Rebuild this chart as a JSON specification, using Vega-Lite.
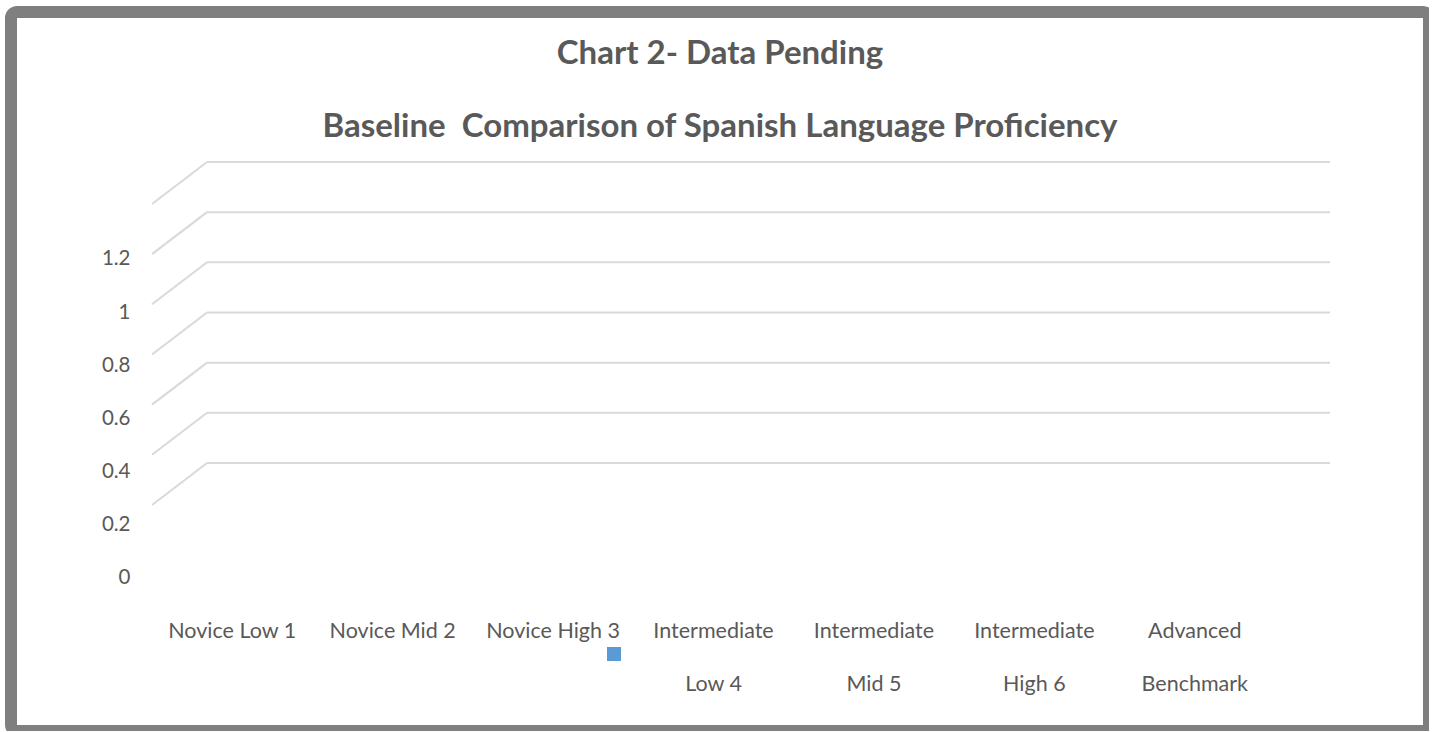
{
  "$schema": "https://vega.github.io/schema/vega-lite/v6.json",
  "width": 1418,
  "height": 719,
  "autosize": {"type": "none"},
  "padding": {"left": 11, "top": 12, "right": 0, "bottom": 0},
  "background": "white",
  "config": {
    "view": {"stroke": "#7F7F7F", "strokeWidth": 12, "cornerRadius": 6, "fill": "white"},
    "font": "Lato"
  },
  "title": {
    "text": ["Chart 2- Data Pending", "Baseline \u00a0Comparison of Spanish Language Proficiency"],
    "anchor": "middle",
    "frame": "group",
    "font": "Lato",
    "fontSize": 33,
    "fontWeight": "bold",
    "color": "#595959",
    "lineHeight": 73,
    "offset": -132
  },
  "datasets": {
    "levels": [
      {"level": "Novice Low 1", "series": " ", "score": null},
      {"level": "Novice Mid 2", "series": " ", "score": null},
      {"level": "Novice High 3", "series": " ", "score": null},
      {"level": "Intermediate Low 4", "series": " ", "score": null},
      {"level": "Intermediate Mid 5", "series": " ", "score": null},
      {"level": "Intermediate High 6", "series": " ", "score": null},
      {"level": "Advanced Benchmark", "series": " ", "score": null}
    ],
    "grid": [
      {"tick": 0}, {"tick": 0.2}, {"tick": 0.4}, {"tick": 0.6}, {"tick": 0.8}, {"tick": 1.0}, {"tick": 1.2}
    ]
  },
  "layer": [
    {
      "data": {"name": "grid"},
      "mark": {"type": "rule", "color": "#D9D9D9", "strokeWidth": 2},
      "encoding": {
        "x": {"datum": 0.343, "type": "quantitative", "scale": {"domain": [-0.879, 7.96], "nice": false, "zero": false}, "axis": null},
        "x2": {"datum": 7.343},
        "y": {"field": "tick", "type": "quantitative", "scale": {"domain": [-1.0686, 1.798], "nice": false, "zero": false}, "axis": null}
      }
    },
    {
      "data": {"name": "grid"},
      "mark": {"type": "rule", "color": "#D9D9D9", "strokeWidth": 2, "yOffset": 42},
      "encoding": {
        "x": {"datum": 0, "type": "quantitative", "scale": {"domain": [-0.879, 7.96], "nice": false, "zero": false}, "axis": null},
        "x2": {"datum": 0.343},
        "y": {"field": "tick", "type": "quantitative", "scale": {"domain": [-1.0686, 1.798], "nice": false, "zero": false}, "axis": null},
        "y2": {"field": "tick"}
      }
    },
    {
      "data": {"name": "levels"},
      "mark": {"type": "bar"},
      "encoding": {
        "x": {
          "field": "level",
          "type": "nominal",
          "sort": null,
          "scale": {
            "domain": ["Novice Low 1", "Novice Mid 2", "Novice High 3", "Intermediate Low 4", "Intermediate Mid 5", "Intermediate High 6", "Advanced Benchmark"],
            "paddingInner": 0,
            "paddingOuter": 0.9194,
            "align": 0.478
          },
          "axis": {
            "orient": "bottom",
            "offset": -111,
            "ticks": false,
            "domain": false,
            "grid": false,
            "title": null,
            "labelAngle": 0,
            "labelPadding": 0,
            "labelFont": "Lato",
            "labelFontSize": 21.5,
            "labelColor": "#595959",
            "labelLineHeight": 53,
            "labelLimit": 0,
            "labelExpr": "indexof(datum.label, 'Intermediate') == 0 ? ['Intermediate', substring(datum.label, 13)] : datum.label == 'Advanced Benchmark' ? ['Advanced', 'Benchmark'] : datum.label"
          }
        },
        "y": {
          "field": "score",
          "type": "quantitative",
          "scale": {"domain": [-0.581, 2.132], "nice": false, "zero": false},
          "axis": {
            "orient": "left",
            "values": [0, 0.2, 0.4, 0.6, 0.8, 1, 1.2],
            "format": "~g",
            "offset": -119,
            "ticks": false,
            "domain": false,
            "grid": false,
            "title": null,
            "labelPadding": 0,
            "labelFont": "Lato",
            "labelFontSize": 20.5,
            "labelColor": "#595959"
          }
        },
        "color": {
          "field": "series",
          "type": "nominal",
          "scale": {"domain": [" "], "range": ["#5B9BD5"]},
          "legend": {
            "orient": "none",
            "legendX": 596,
            "legendY": 635,
            "title": null,
            "padding": 0,
            "symbolType": "square",
            "symbolSize": 196,
            "symbolStrokeWidth": 0,
            "labelFontSize": 12
          }
        }
      }
    }
  ],
  "resolve": {"scale": {"x": "independent", "y": "independent"}}
}
